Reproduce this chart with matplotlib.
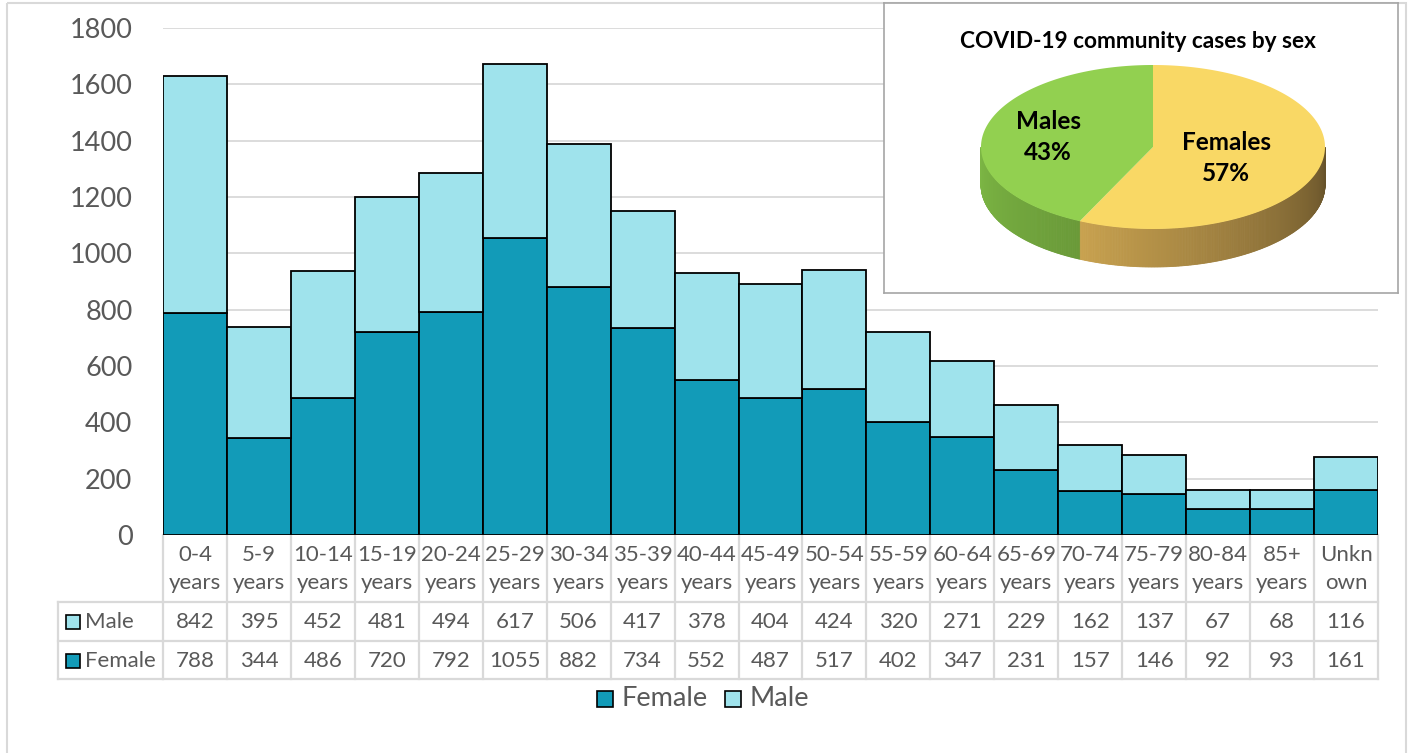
import numpy as np
import matplotlib
matplotlib.use('Agg')
import matplotlib.pyplot as plt
from matplotlib.patches import Rectangle, Polygon
from matplotlib.transforms import blended_transform_factory
from matplotlib.colors import to_rgb

# Data
ages = ['0-4\nyears', '5-9\nyears', '10-14\nyears', '15-19\nyears', '20-24\nyears',
        '25-29\nyears', '30-34\nyears', '35-39\nyears', '40-44\nyears', '45-49\nyears',
        '50-54\nyears', '55-59\nyears', '60-64\nyears', '65-69\nyears', '70-74\nyears',
        '75-79\nyears', '80-84\nyears', '85+\nyears', 'Unkn\nown']
male = [842, 395, 452, 481, 494, 617, 506, 417, 378, 404, 424, 320, 271, 229, 162, 137, 67, 68, 116]
female = [788, 344, 486, 720, 792, 1055, 882, 734, 552, 487, 517, 402, 347, 231, 157, 146, 92, 93, 161]

pie_title = 'COVID-19 community cases by sex'
pie_labels = ['Females', 'Males']
pie_pct = [57, 43]

# Colours
FEM = '#129bb8'
MAL = '#9fe3ec'
GRID = '#d9d9d9'
TXT = '#595959'

plt.rcParams['font.family'] = ['Lato', 'DejaVu Sans']

W, H = 1410, 753
fig = plt.figure(figsize=(W / 100, H / 100), dpi=100)


def px(x0, y0, x1, y1):
    return [x0 / W, 1 - y1 / H, (x1 - x0) / W, (y1 - y0) / H]


# full-figure overlay in pixel units for border, table and legend
ov = fig.add_axes([0, 0, 1, 1], zorder=0)
ov.set_xlim(0, W)
ov.set_ylim(H, 0)
ov.axis('off')
ov.add_patch(Rectangle((7, 3), 1399, 760, fill=False, edgecolor=GRID, lw=1.5, clip_on=False))

# main stacked bars
ax = fig.add_axes(px(163, 28, 1378, 535), zorder=1)
ax.patch.set_alpha(0)
x = np.arange(len(ages))
ax.bar(x, female, width=1.0, color=FEM, edgecolor='black', lw=1.3, zorder=3)
ax.bar(x, male, bottom=female, width=1.0, color=MAL, edgecolor='black', lw=1.3, zorder=3)
ax.set_xlim(-0.5, len(ages) - 0.5)
ax.set_ylim(0, 1800)
ax.set_yticks(range(0, 1801, 200))
ax.set_xticks([])
ax.grid(axis='y', color=GRID, lw=1.3, zorder=0)
ax.set_axisbelow(True)
for s in ax.spines.values():
    s.set_visible(False)
ax.tick_params(axis='y', length=0, labelsize=19.5, labelcolor=TXT, pad=22)

# data table under the bars
FS = 16
tr = blended_transform_factory(ax.transData, ov.transData)
for xb in np.arange(-0.5, len(ages)):
    ax.plot([xb, xb], [535, 679], transform=tr, color=GRID, lw=1.6, clip_on=False)
for yb in [602, 641, 679]:
    ax.plot([-0.5, len(ages) - 0.5], [yb, yb], transform=tr, color=GRID, lw=1.6, clip_on=False)
    ov.plot([58, 163], [yb, yb], color=GRID, lw=1.6)
ov.plot([58, 58], [602, 679], color=GRID, lw=1.6)

for i in range(len(ages)):
    ax.text(i, 569, ages[i], transform=tr, ha='center', va='center', fontsize=FS,
            color=TXT, linespacing=1.45, clip_on=False)
    ax.text(i, 622, str(male[i]), transform=tr, ha='center', va='center', fontsize=FS,
            color=TXT, clip_on=False)
    ax.text(i, 661, str(female[i]), transform=tr, ha='center', va='center', fontsize=FS,
            color=TXT, clip_on=False)

for yc, col, lab in [(622, MAL, 'Male'), (661, FEM, 'Female')]:
    ov.add_patch(Rectangle((66, yc - 7), 14, 14, facecolor=col, edgecolor='black', lw=1.2))
    ov.text(85, yc, lab, ha='left', va='center', fontsize=FS, color=TXT)

# legend
for x0, col, lab in [(597, FEM, 'Female'), (725, MAL, 'Male')]:
    ov.add_patch(Rectangle((x0, 691), 16, 16, facecolor=col, edgecolor='black', lw=1.2))
    ov.text(x0 + 24, 698, lab, ha='left', va='center', fontsize=19.5, color=TXT)

# inset 3D pie
pa = fig.add_axes(px(884, 3, 1398, 293), zorder=5)
pa.set_xlim(884, 1398)
pa.set_ylim(293, 3)
pa.set_xticks([])
pa.set_yticks([])
for s in pa.spines.values():
    s.set_color('#a6a6a6')
    s.set_linewidth(1.2)
pa.set_facecolor('white')
pa.text(1138, 42, pie_title, ha='center', va='center', fontsize=16.3, fontweight='bold', color='black')

cx, cy, rx, ry, dep = 1153, 147, 172, 82, 38
a_f = pie_pct[0] / sum(pie_pct) * 360
b = (90 - a_f) % 360  # boundary angle in front


def pt(t):
    r = np.radians(t)
    return cx + rx * np.cos(r), cy - ry * np.sin(r)


def mix(c1, c2, f):
    c1, c2 = np.array(to_rgb(c1)), np.array(to_rgb(c2))
    return tuple(c1 + (c2 - c1) * f)


# side walls (front half), shaded strip by strip
th = np.linspace(180, 360, 361)
for t1, t2 in zip(th[:-1], th[1:]):
    tm = (t1 + t2) / 2
    (x1, y1), (x2, y2) = pt(t1), pt(t2)
    if tm >= b:
        f = (tm - b) / (360 - b)
        c = mix('#c9a24f', '#66522a', f)
    else:
        f = (tm - 180) / (b - 180)
        c = mix('#7db845', '#6a9a38', f)
    pa.add_patch(Polygon([(x1, y1), (x2, y2), (x2, y2 + dep), (x1, y1 + dep)],
                         closed=True, facecolor=c, edgecolor=c, lw=0.6))

# top face
tf = np.linspace(90, 90 - a_f, 300)
tm_ = np.linspace(90 - a_f, -270, 300)
pa.add_patch(Polygon([(cx, cy)] + [pt(t) for t in tf], closed=True, facecolor='#f9d865', edgecolor='none'))
pa.add_patch(Polygon([(cx, cy)] + [pt(t) for t in tm_], closed=True, facecolor='#92d050', edgecolor='none'))

pa.text(1226, 158, '%s\n%d%%' % (pie_labels[0], pie_pct[0]), ha='center', va='center',
        fontsize=17.5, fontweight='bold', color='black', linespacing=1.4)
pa.text(1048, 137, '%s\n%d%%' % (pie_labels[1], pie_pct[1]), ha='center', va='center',
        fontsize=17.5, fontweight='bold', color='black', linespacing=1.4)

fig.savefig('out.png', dpi=100)
